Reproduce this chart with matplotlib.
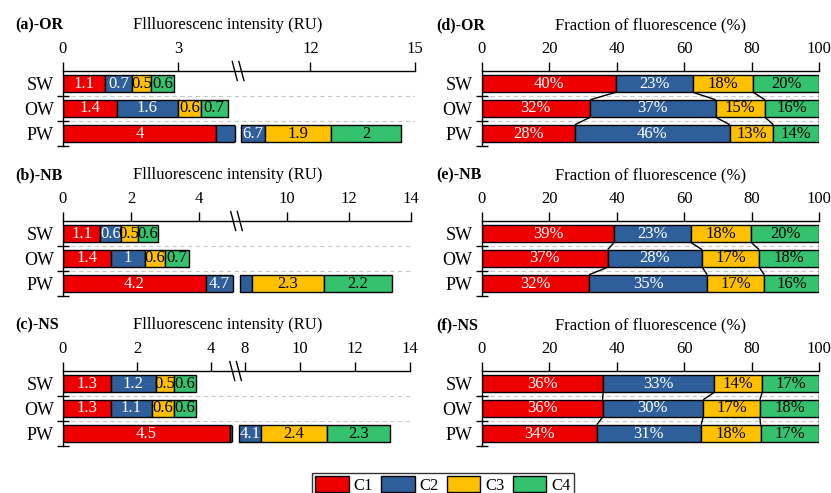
import numpy as np
import matplotlib
matplotlib.use("Agg")
import matplotlib.pyplot as plt
from matplotlib.patches import Patch, Rectangle
from matplotlib.lines import Line2D

plt.rcParams['font.family'] = ['Liberation Serif', 'DejaVu Serif']

sites = ['SW', 'OW', 'PW']
components = ['C1', 'C2', 'C3', 'C4']
colors = ['#EE0000', '#2F5F9B', '#FFC000', '#35C26E']
label_colors = ['white', 'white', 'black', 'black']

# fluorescence intensity (RU); rows SW, OW, PW; columns C1..C4
or_intensity = [[1.1, 0.7, 0.5, 0.6], [1.4, 1.6, 0.6, 0.7], [4, 6.7, 1.9, 2]]
nb_intensity = [[1.1, 0.6, 0.5, 0.6], [1.4, 1, 0.6, 0.7], [4.2, 4.7, 2.3, 2.2]]
ns_intensity = [[1.3, 1.2, 0.5, 0.6], [1.3, 1.1, 0.6, 0.6], [4.5, 4.1, 2.4, 2.3]]

# fraction of fluorescence (%)
or_fraction = [[39.8, 22.7, 17.9, 19.6], [32.1, 37.2, 14.6, 16.1], [27.6, 45.9, 12.9, 13.6]]
nb_fraction = [[39.3, 22.6, 17.9, 20.2], [37.3, 28.0, 16.9, 17.8], [31.8, 35.0, 16.9, 16.3]]
ns_fraction = [[36.0, 32.9, 14.2, 16.9], [35.8, 29.8, 16.8, 17.6], [34.1, 30.9, 17.6, 17.4]]

# broken x axes: ticks, left end, right start, max, px/unit left, px/unit right, gap px
or_ticks = [0, 3, 12, 15]
nb_ticks = [0, 2, 4, 10, 12, 14]
ns_ticks = [0, 2, 4, 8, 10, 12, 14]
breaks = [(4.5, 10, 15, 38.3, 34.8, 5.5),
          (5.0, 8.5, 14, 34.0, 31.0, 7.0),
          (4.57, 7.8, 14, 37.0, 27.5, 7.0)]

W, H = 831, 493
fig = plt.figure(figsize=(W / 100, H / 100), dpi=100)

BAR_H = 0.7
FS = 12


def broken_funcs(a, r0, s1, s2, gap):
    def fwd(x):
        x = np.asarray(x, float)
        mid = a * s1 + (x - a) / (r0 - a) * gap
        return np.where(x <= a, x * s1, np.where(x >= r0, a * s1 + gap + (x - r0) * s2, mid))

    def inv(v):
        v = np.asarray(v, float)
        mid = a + (v - a * s1) / gap * (r0 - a)
        return np.where(v <= a * s1, v / s1,
                        np.where(v >= a * s1 + gap, r0 + (v - a * s1 - gap) / s2, mid))
    return fwd, inv


def style_axes(ax):
    ax.set_ylim(2.5, -0.5)
    for s in ['right', 'bottom']:
        ax.spines[s].set_visible(False)
    for s in ['top', 'left']:
        ax.spines[s].set_linewidth(1.0)
    ax.xaxis.tick_top()
    ax.tick_params(axis='x', direction='out', length=6.5, width=1.0, pad=3.5, labelsize=FS)
    ax.set_yticks(range(3))
    ax.set_yticklabels(sites, fontsize=13)
    ax.tick_params(axis='y', which='major', length=0, pad=6.5)
    ax.set_yticks([0.5, 1.5, 2.5], minor=True)
    ax.tick_params(axis='y', which='minor', direction='inout', length=9, width=1.0)
    ax.set_facecolor('none')


def draw_stack(ax, data, xmax):
    data = np.array(data, float)
    starts = np.hstack([np.zeros((3, 1)), np.cumsum(data, axis=1)[:, :-1]])
    for j in range(4):
        ax.barh(range(3), data[:, j], left=starts[:, j], height=BAR_H, color=colors[j],
                edgecolor='black', linewidth=1.0, zorder=2)
    ax.hlines([0.5, 1.5], 0, xmax, colors='#C8C8C8', linestyles=(0, (4, 3)),
              linewidth=0.8, zorder=1)
    return data, starts


left_sets = [(or_intensity, or_ticks, '(a)-OR'),
             (nb_intensity, nb_ticks, '(b)-NB'),
             (ns_intensity, ns_ticks, '(c)-NS')]
right_sets = [(or_fraction, '(d)-OR'), (nb_fraction, '(e)-NB'), (ns_fraction, '(f)-NS')]
tops = [71, 221, 371]

for k in range(3):
    top = tops[k]
    data, ticks, name = left_sets[k]
    a, r0, xmax, s1, s2, gap = breaks[k]
    fwd, inv = broken_funcs(a, r0, s1, s2, gap)
    width_px = float(fwd(xmax))
    ax = fig.add_axes([63 / W, 1 - (top + 75) / H, width_px / W, 75 / H])
    ax.set_xscale('function', functions=(fwd, inv))
    ax.set_xlim(0, xmax)
    ax.set_xticks(ticks)
    ax.set_xticklabels([f'{t:g}' for t in ticks])
    style_axes(ax)
    vals, starts = draw_stack(ax, data, xmax)

    # white gap across bars that pass the axis break
    for i in range(3):
        total = starts[i, -1] + vals[i, -1]
        if total > a:
            ax.add_patch(Rectangle((a, i - BAR_H / 2 - 0.06), r0 - a, BAR_H + 0.12,
                                   facecolor='white', edgecolor='none', zorder=3))
            ax.vlines([a, r0], i - BAR_H / 2, i + BAR_H / 2, colors='black',
                      linewidth=1.0, zorder=3.5)

    for i in range(3):
        for j in range(4):
            x0, x1 = starts[i, j], starts[i, j] + vals[i, j]
            if x0 < a < x1:
                left_w = fwd(a) - fwd(x0)
                right_w = fwd(x1) - fwd(r0)
                xc = (x0 + a) / 2 if left_w > right_w else (r0 + x1) / 2
            else:
                xc = (x0 + x1) / 2
            ax.text(xc, i, f'{vals[i, j]:g}', ha='center', va='center', fontsize=FS,
                    color=label_colors[j], zorder=4)

    # break marks on the top axis
    xm = (a + r0) / 2
    xd = ax.transData.transform((xm, 0))[0]
    yd = ax.transAxes.transform((0, 1))[1]
    for dx in (-3.3, 3.3):
        fig.add_artist(Line2D([(xd + dx - 2.5) / W, (xd + dx + 2.5) / W],
                              [(yd + 9.5) / H, (yd - 9.5) / H],
                              transform=fig.transFigure, color='black', linewidth=1.0))

    fig.text(15 / W, 1 - (top - 46) / H, name, fontweight='bold', fontsize=11.5,
             ha='left', va='center')
    fig.text(228 / W, 1 - (top - 46) / H, 'Fllluorescenc intensity (RU)', fontsize=12,
             ha='center', va='center')

    # fraction panels
    fdata, fname = right_sets[k]
    axr = fig.add_axes([481.7 / W, 1 - (top + 75) / H, 337.6 / W, 75 / H])
    axr.set_xlim(0, 100)
    axr.set_xticks(range(0, 101, 20))
    style_axes(axr)
    fvals, fstarts = draw_stack(axr, fdata, 100)
    ends = fstarts + fvals
    for i in range(2):
        for j in range(4):
            axr.plot([ends[i, j], ends[i + 1, j]], [i + BAR_H / 2, i + 1 - BAR_H / 2],
                     color='black', linewidth=1.0, zorder=3, solid_capstyle='butt')
    for i in range(3):
        for j in range(4):
            axr.text(fstarts[i, j] + fvals[i, j] / 2, i, f'{fvals[i, j]:.0f}%', ha='center',
                     va='center', fontsize=FS, color=label_colors[j], zorder=4)

    fig.text(436 / W, 1 - (top - 46) / H, fname, fontweight='bold', fontsize=11.5,
             ha='left', va='center')
    fig.text(650.5 / W, 1 - (top - 46) / H, 'Fraction of fluorescence (%)', fontsize=12,
             ha='center', va='center')

handles = [Patch(facecolor=c, edgecolor='black', linewidth=1.0) for c in colors]
leg = fig.legend(handles, components, ncol=4, loc='upper center',
                 bbox_to_anchor=(443 / W, 1 - 473 / H), fontsize=12, frameon=True,
                 fancybox=False, edgecolor='black', handlelength=2.0, handleheight=1.1,
                 handletextpad=0.3, columnspacing=0.5, borderpad=0.2, borderaxespad=0)
leg.get_frame().set_linewidth(1.0)

fig.savefig('out.png', dpi=100)
